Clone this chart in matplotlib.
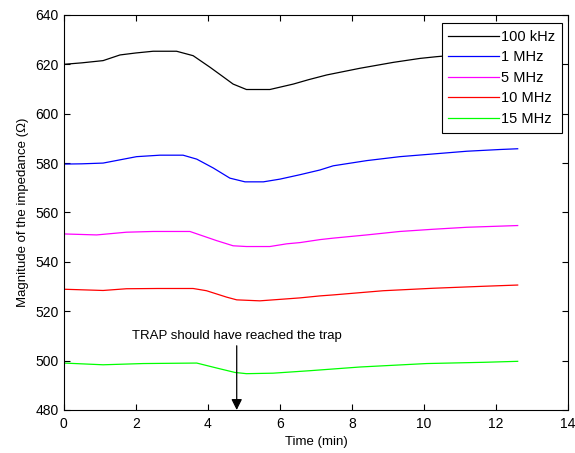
import matplotlib
matplotlib.use("Agg")
import matplotlib.pyplot as plt
import numpy as np

plt.rcParams["font.family"] = ["Liberation Sans", "DejaVu Sans"]

# Time points (min) and impedance magnitude (ohm) for each frequency
t_100k = [0.0, 0.5, 1.09, 1.56, 2.0, 2.48, 3.13, 3.59, 4.06, 4.4, 4.70, 5.07, 5.72,
          6.37, 6.8, 7.3, 8.22, 9.15, 9.89, 10.35, 11.0, 11.8, 12.6]
z_100k = [620.0, 620.6, 621.5, 623.8, 624.6, 625.3, 625.3, 623.5, 618.8, 615.2, 612.0,
          609.8, 609.8, 612.0, 613.8, 615.7, 618.4, 620.8, 622.4, 623.1, 623.9, 624.6, 625.2]

t_1m = [0.0, 0.5, 1.09, 2.02, 2.67, 3.31, 3.69, 4.15, 4.61, 5.03, 5.54, 6.0, 6.56,
        7.11, 7.48, 8.41, 9.33, 10.26, 11.19, 12.11, 12.6]
z_1m = [579.6, 579.7, 580.0, 582.6, 583.2, 583.2, 581.6, 578.0, 573.9, 572.4, 572.4,
        573.5, 575.3, 577.2, 578.9, 581.0, 582.6, 583.7, 584.8, 585.5, 585.8]

t_5m = [0.0, 0.91, 1.74, 2.48, 3.5, 3.78, 4.24, 4.7, 5.07, 5.72, 6.19, 6.56, 7.11,
        7.48, 8.41, 9.33, 10.26, 11.19, 12.6]
z_5m = [551.3, 550.9, 552.0, 552.3, 552.3, 550.9, 548.6, 546.5, 546.2, 546.2, 547.3,
        547.8, 549.0, 549.6, 550.9, 552.3, 553.2, 554.0, 554.7]

t_10m = [0.0, 1.09, 1.74, 2.6, 3.59, 3.96, 4.52, 4.8, 5.44, 6.19, 6.56, 7.11, 7.48,
         8.87, 10.26, 11.65, 12.6]
z_10m = [528.9, 528.4, 529.1, 529.2, 529.2, 528.3, 525.7, 524.6, 524.2, 525.0, 525.4,
         526.2, 526.6, 528.3, 529.3, 530.1, 530.6]

t_15m = [0.0, 1.09, 2.2, 3.69, 4.24, 4.75, 5.07, 5.81, 6.83, 8.22, 10.07, 11.65, 12.6]
z_15m = [499.0, 498.3, 498.8, 499.0, 497.0, 495.2, 494.7, 494.9, 495.9, 497.4, 498.8,
         499.3, 499.7]

labels = ["100 kHz", "1 MHz", "5 MHz", "10 MHz", "15 MHz"]
colors = ["#000000", "#0000ff", "#ff00ff", "#ff0000", "#00ff00"]

trap_time = 4.8
note = "TRAP should have reached the trap"

fig = plt.figure(figsize=(5.75, 4.53), dpi=100)
ax = fig.add_axes([0.111, 0.095, 0.877, 0.872])

series = [(t_100k, z_100k), (t_1m, z_1m), (t_5m, z_5m), (t_10m, z_10m), (t_15m, z_15m)]
for (t, z), lab, c in zip(series, labels, colors):
    ax.plot(t, z, color=c, linewidth=0.9, label=lab)

ax.annotate("", xy=(trap_time, 480), xytext=(trap_time, 506),
            arrowprops=dict(arrowstyle="-|>", color="black", lw=0.9,
                            mutation_scale=16, shrinkA=0, shrinkB=0))
ax.text(trap_time, 509.8, note, ha="center", va="center", fontsize=9.5)

ax.set_xlim(0, 14)
ax.set_ylim(480, 640)
ax.set_xticks(np.arange(0, 15, 2))
ax.set_yticks(np.arange(480, 641, 20))
ax.tick_params(direction="in", top=True, right=True, length=4, labelsize=10, width=0.8)
ax.tick_params(axis="x", pad=5)
for s in ax.spines.values():
    s.set_linewidth(0.8)

ax.set_xlabel("Time (min)", fontsize=9.5, labelpad=4)
ax.set_ylabel("Magnitude of the impedance (Ω)", fontsize=9.5, labelpad=5)

leg = ax.legend(loc="upper right", bbox_to_anchor=(0.988, 0.979), fontsize=10.5,
                frameon=True, fancybox=False, edgecolor="black", framealpha=1,
                handlelength=3.5, handletextpad=0.15, borderpad=0.45, labelspacing=0.45,
                borderaxespad=0)
leg.get_frame().set_linewidth(0.8)

fig.savefig("out.png", dpi=100)
